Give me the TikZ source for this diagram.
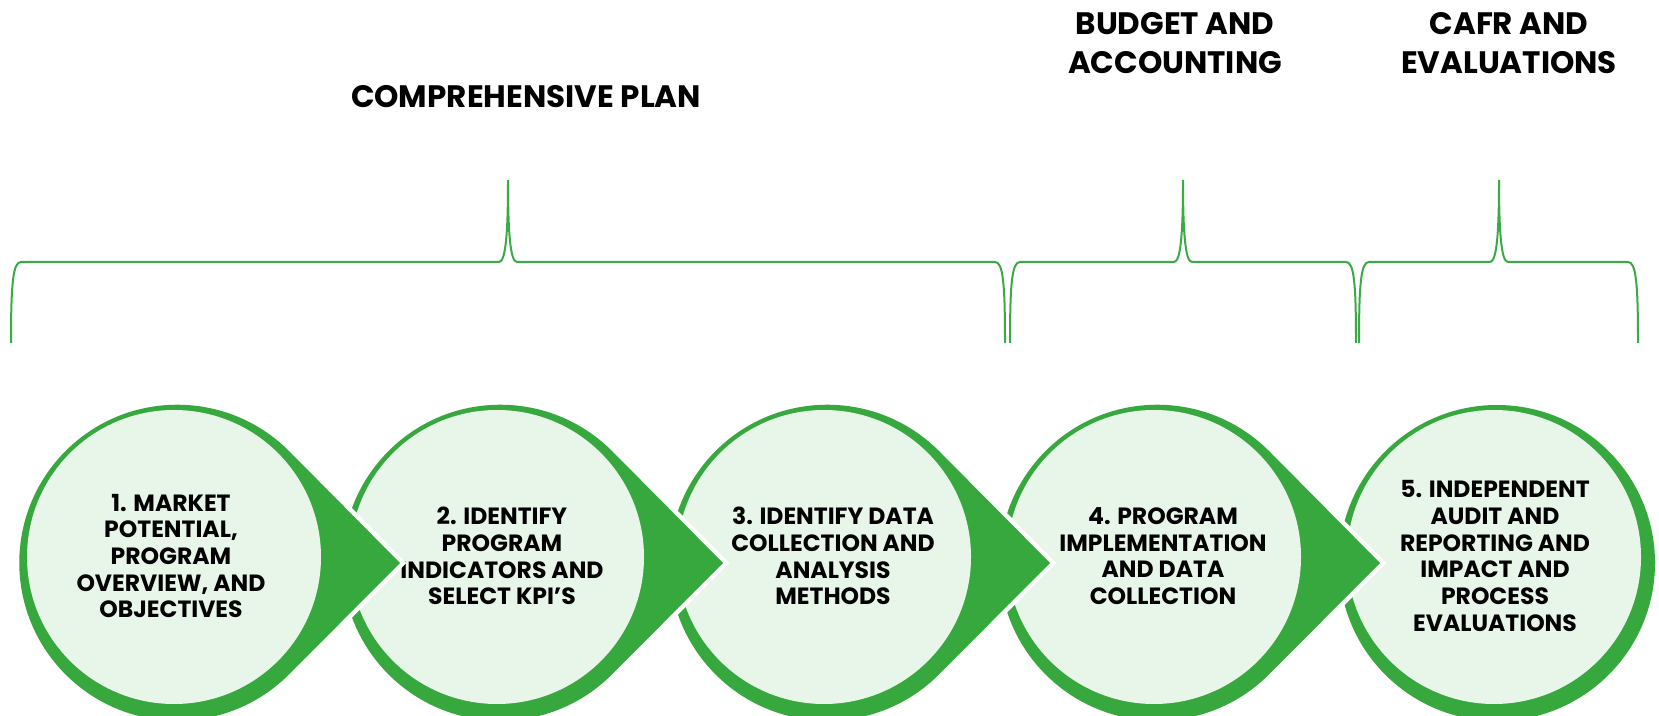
\documentclass[tikz,border=0pt]{standalone}
\usepackage{fontspec}
\setmainfont{Poppins}
\usepackage{tikz}
\definecolor{dropgreen}{RGB}{55,168,62}
\definecolor{dropfill}{RGB}{232,245,233}
\definecolor{bracegreen}{RGB}{58,170,68}

\begin{document}
\begin{tikzpicture}[x=1pt,y=1pt,
	drop/.style={fill=dropgreen,preaction={draw=white,line width=9pt}},
	steptext/.style={align=center,font=\fontsize{23.5}{26.7}\selectfont\bfseries},
	headtext/.style={align=center,font=\fontsize{31}{38.5}\selectfont\bfseries},
	bracket/.style={draw=bracegreen,line width=2pt}]
	\clip (0,0) rectangle (1659,715);
	% curly brackets over the steps
	\foreach \a/\t/\b in {11/508/1005,1010/1183/1356,1359/1499/1638}
	\draw[bracket] (\a,372) .. controls (\a,432) and (\a+2,453) .. (\a+10,453)
		-- (\t-9,453) .. controls (\t-2,453) and (\t,485) .. (\t,535)
		.. controls (\t,485) and (\t+2,453) .. (\t+9,453)
		-- (\b-10,453) .. controls (\b-2,453) and (\b,432) .. (\b,372);
	\node[headtext,anchor=base] (plan) at (526,607) {COMPREHENSIVE PLAN};
	\node[headtext] (budget) at (1175,672) {BUDGET AND\\ACCOUNTING};
	\node[headtext] (cafr) at (1509,672) {CAFR AND\\EVALUATIONS};
	% steps, last one first so that each tip lies over the next circle
	\foreach \i/\x/\tx/\txt in {
		5/1497/1495/{5. INDEPENDENT\\AUDIT AND\\REPORTING AND\\IMPACT AND\\PROCESS\\EVALUATIONS},
		4/1157/1163/{4. PROGRAM\\IMPLEMENTATION\\AND DATA\\COLLECTION},
		3/827/833/{3. IDENTIFY DATA\\COLLECTION AND\\ANALYSIS\\METHODS},
		2/500/502/{2. IDENTIFY\\PROGRAM\\INDICATORS AND\\SELECT KPI’S},
		1/177/171/{1. MARKET\\POTENTIAL,\\PROGRAM\\OVERVIEW, AND\\OBJECTIVES}}{
		\ifnum\i<5
			\path[drop] (\x+223,152) -- (\x+112,264) arc[start angle=45,end angle=315,radius=158pt] -- cycle;
		\else
			\path[drop] (\x,152) circle[radius=158pt];
		\fi
		\fill[dropfill] (\x-3,158) circle[radius=147pt];
		\node[steptext] (step\i) at (\tx,159) {\txt};
	}
\end{tikzpicture}
\end{document}
